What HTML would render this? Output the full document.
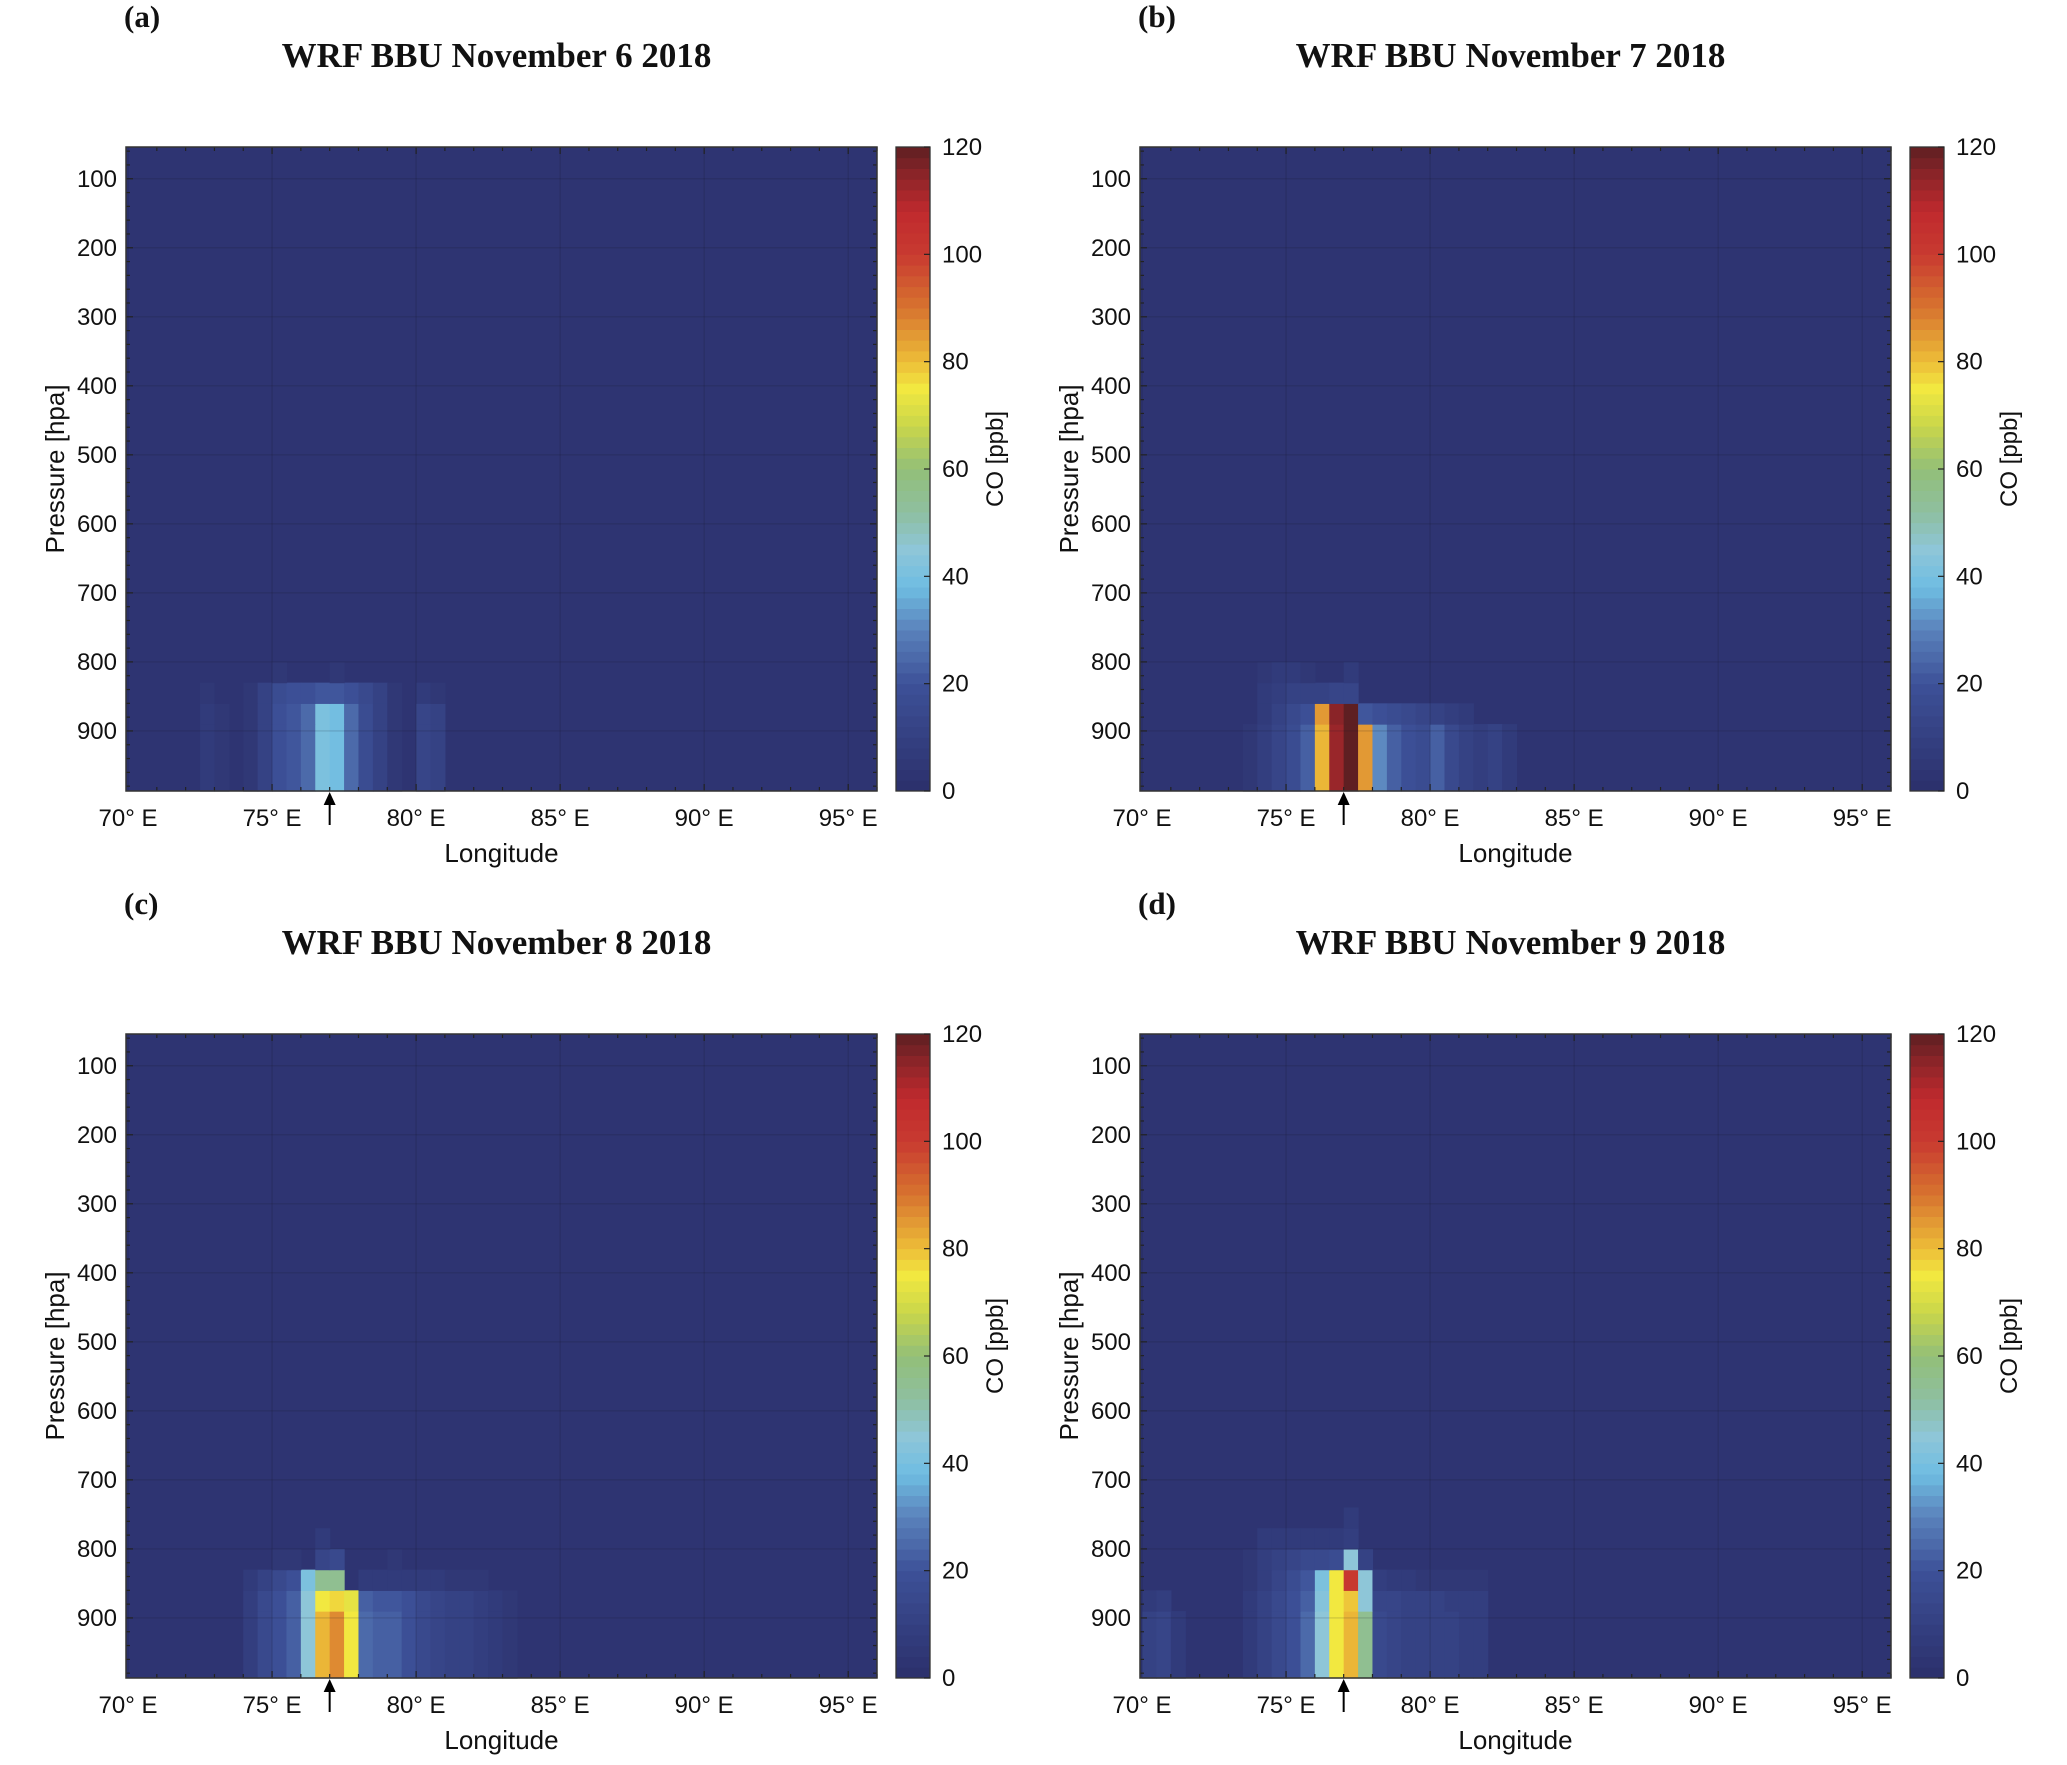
<!DOCTYPE html>
<html><head><meta charset="utf-8">
<style>
html,body{margin:0;padding:0;background:#fff;}
svg{display:block;}
.tk{font-family:"Liberation Sans",sans-serif;font-size:24px;fill:#111;}
.ttl{font-family:"Liberation Serif",serif;font-weight:bold;font-size:35px;fill:#111;}
.lab{font-family:"Liberation Serif",serif;font-weight:bold;font-size:31px;fill:#111;}
.ax{font-family:"Liberation Sans",sans-serif;font-size:26px;fill:#111;}
</style></head>
<body>
<svg id="fig" width="2067" height="1765" viewBox="0 0 2067 1765" xmlns="http://www.w3.org/2000/svg"></svg>
<script>
// ---- data ----
const panelLabels = ["(a)","(b)","(c)","(d)"];
const panelTitles = ["WRF BBU November 6 2018","WRF BBU November 7 2018","WRF BBU November 8 2018","WRF BBU November 9 2018"];
const lonTicks = [70,75,80,85,90,95];
const presTicks = [100,200,300,400,500,600,700,800,900];
const cbTicks = [0,20,40,60,80,100,120];
const lonStart = 70, lonStep = 0.5;
// level edges (hPa), bottom-up bands
const levelEdges = [987,890,860,830,800,770,740];
const bgValue = 2;
const coA = [
 [0,0,0,0, 0,6,4,0,4,10,18,20,24,40,38,24,16,10,4,0,12,10,0,0,0,0,0,0],
 [0,0,0,0, 0,6,4,0,4,10,18,20,24,40,38,24,16,10,4,0,12,10,0,0,0,0,0,0],
 [0,0,0,0, 0,5,3,0,4,10,16,18,18,20,20,18,14,10,4,0,6,4,0,0,0,0,0,0],
 [0,0,0,0, 0,0,0,0,0,0,5,0,0,0,5,0,0,0,0,0,0,0,0,0,0,0,0,0],
 [0,0,0,0, 0,0,0,0,0,0,0,0,0,0,0,0,0,0,0,0,0,0,0,0,0,0,0,0],
 [0,0,0,0, 0,0,0,0,0,0,0,0,0,0,0,0,0,0,0,0,0,0,0,0,0,0,0,0]
];
const coB = [
 [0,0,0,0, 0,0,0,4,8,12,16,22,80,112,120,85,30,22,18,16,22,14,10,8,10,6,0,0],
 [0,0,0,0, 0,0,0,0,6,10,14,18,85,115,120,20,18,16,14,12,10,8,6,0,0,0,0,0],
 [0,0,0,0, 0,0,0,0,6,8,10,10,10,12,12,0,0,0,0,0,0,0,0,0,0,0,0,0],
 [0,0,0,0, 0,0,0,0,4,6,6,4,0,0,6,0,0,0,0,0,0,0,0,0,0,0,0,0],
 [0,0,0,0, 0,0,0,0,0,0,0,0,0,0,0,0,0,0,0,0,0,0,0,0,0,0,0,0],
 [0,0,0,0, 0,0,0,0,0,0,0,0,0,0,0,0,0,0,0,0,0,0,0,0,0,0,0,0]
];
const coC = [
 [0,0,0,0, 0,0,0,0,8,14,18,22,45,80,86,75,24,22,22,18,14,12,10,10,8,6,4,0],
 [0,0,0,0, 0,0,0,0,8,14,18,22,45,75,76,72,22,20,20,18,14,12,10,10,8,6,4,0],
 [0,0,0,0, 0,0,0,0,6,10,14,18,40,55,55,0,6,6,6,6,6,6,4,4,4,0,0,0],
 [0,0,0,0, 0,0,0,0,0,0,4,4,0,12,14,0,0,0,4,0,0,0,0,0,0,0,0,0],
 [0,0,0,0, 0,0,0,0,0,0,0,0,0,6,0,0,0,0,0,0,0,0,0,0,0,0,0,0],
 [0,0,0,0, 0,0,0,0,0,0,0,0,0,0,0,0,0,0,0,0,0,0,0,0,0,0,0,0]
];
const coD = [
 [10,12,6,0, 0,0,0,6,10,14,18,24,45,75,80,55,14,12,10,10,10,10,8,8,0,0,0,0],
 [6,8,0,0, 0,0,0,6,10,14,18,22,42,75,78,45,12,12,10,10,10,8,8,8,0,0,0,0],
 [0,0,0,0, 0,0,0,4,8,12,16,20,40,75,100,45,8,6,6,4,4,4,4,4,0,0,0,0],
 [0,0,0,0, 0,0,0,4,8,10,12,14,14,16,45,10,0,0,0,0,0,0,0,0,0,0,0,0],
 [0,0,0,0, 0,0,0,0,6,6,6,6,6,6,8,0,0,0,0,0,0,0,0,0,0,0,0,0],
 [0,0,0,0, 0,0,0,0,0,0,0,0,0,0,6,0,0,0,0,0,0,0,0,0,0,0,0,0]
];
const panelData = [coA,coB,coC,coD];
const arrowLon = 77.0;

// ---- colormap ----
const cmapStops = [[0,"#2b2f6b"],[20,"#3d5198"],[30,"#5a82bb"],[38,"#6fbde2"],[45,"#8ec6d8"],[52,"#8ebfa0"],[60,"#93bf78"],[68,"#c9d64a"],[75,"#f2e840"],[80,"#edbd38"],[90,"#d7742f"],[100,"#c83a30"],[108,"#c02a2e"],[115,"#8a2428"],[120,"#5e1f22"]];
function hex(h){return [1,3,5].map(i=>parseInt(h.substr(i,2),16));}
function cmap(v){
  v=Math.max(0,Math.min(120,Math.floor(v/2)*2+1));
  for(let i=0;i<cmapStops.length-1;i++){
    const [a,ca]=cmapStops[i],[b,cb]=cmapStops[i+1];
    if(v<=b){const t=(v-a)/(b-a),A=hex(ca),B=hex(cb);
      return "rgb("+A.map((x,k)=>Math.round(x+(B[k]-x)*t)).join(",")+")";}
  }
  return cmapStops[cmapStops.length-1][1];
}

const NS="http://www.w3.org/2000/svg";
const svg=document.getElementById("fig");
function el(tag,attrs,parent,text){const e=document.createElementNS(NS,tag);for(const k in attrs)e.setAttribute(k,attrs[k]);if(text!==undefined)e.textContent=text;(parent||svg).appendChild(e);return e;}

const W0={x0:126,x1:877,y0:147,y1:791};
const lonMin=69.93,lonMax=96.0,pMin=54,pMax=987;
const offsets=[[0,0],[1014,0],[0,887],[1014,887]];

panelData.forEach((data,pi)=>{
  const [ox,oy]=offsets[pi];
  const X0=W0.x0+ox,X1=W0.x1+ox,Y0=W0.y0+oy,Y1=W0.y1+oy;
  const xs=l=>X0+(l-lonMin)/(lonMax-lonMin)*(X1-X0);
  const ys=p=>Y0+(p-pMin)/(pMax-pMin)*(Y1-Y0);
  const g=el("g",{});
  
  
  const pl=el("text",{x:X0-2,y:oy+27,class:"lab"},g,panelLabels[pi]);
  
  
  const tt=el("text",{x:(X0+X1)/2-5,y:oy+67,class:"ttl","text-anchor":"middle"},g,panelTitles[pi]);
  
  
  const bg=el("rect",{x:X0,y:Y0,width:X1-X0,height:Y1-Y0,fill:cmap(bgValue)},g);
  
  
  data.forEach((row,li)=>{
    const pB=levelEdges[li],pT=levelEdges[li+1];
    row.forEach((v,ci)=>{
      if(v<=bgValue)return;
      const l0=lonStart+ci*lonStep;
      const r=el("rect",{x:xs(l0),y:ys(pT),width:xs(l0+lonStep)-xs(l0)+0.6,height:ys(pB)-ys(pT)+0.6,fill:cmap(v)},g);
      
      
    });
  });
  lonTicks.forEach(t=>{el("line",{x1:xs(t),x2:xs(t),y1:Y0,y2:Y1,stroke:"rgba(20,20,40,0.18)","stroke-width":1.2},g);});
  presTicks.forEach(t=>{el("line",{x1:X0,x2:X1,y1:ys(t),y2:ys(t),stroke:"rgba(20,20,40,0.18)","stroke-width":1.2},g);});
  for(let l=71;l<=96;l++){const x=xs(l);el("line",{x1:x,x2:x,y1:Y1,y2:Y1-(l%5?4:7),stroke:"#222","stroke-width":1.2},g);el("line",{x1:x,x2:x,y1:Y0,y2:Y0+(l%5?4:7),stroke:"#222","stroke-width":1.2},g);}
  for(let p=60;p<=980;p+=20){const y=ys(p);el("line",{x1:X0,x2:X0+(p%100?4:7),y1:y,y2:y,stroke:"#222","stroke-width":1.2},g);el("line",{x1:X1,x2:X1-(p%100?4:7),y1:y,y2:y,stroke:"#222","stroke-width":1.2},g);}
  el("rect",{x:X0,y:Y0,width:X1-X0,height:Y1-Y0,fill:"none",stroke:"#333","stroke-width":1.5},g);
  lonTicks.forEach(t=>{const tx=el("text",{x:xs(t),y:Y1+35,class:"tk","text-anchor":"middle"},g,t+"° E");
    
    });
  presTicks.forEach(t=>{const tx=el("text",{x:X0-9,y:ys(t)+8,class:"tk","text-anchor":"end"},g,String(t));
    
    });
  const xt=el("text",{x:(X0+X1)/2,y:Y1+71,class:"ax","text-anchor":"middle"},g,"Longitude");
  
  
  const yt=el("text",{x:0,y:0,class:"ax","text-anchor":"middle",transform:"translate("+(X0-62)+","+((Y0+Y1)/2)+") rotate(-90)"},g,"Pressure [hpa]");
  
  
  const ax=xs(arrowLon);
  const ar=el("g",{},g);
  
  
  el("line",{x1:ax,x2:ax,y1:Y1+6,y2:Y1+34,stroke:"#000","stroke-width":2},ar);
  el("polygon",{points:(ax-6)+","+(Y1+14)+" "+ax+","+(Y1+1)+" "+(ax+6)+","+(Y1+14),fill:"#000"},ar);
  const CX0=896+ox,CX1=930+ox;
  const cb=el("g",{},g);
  
  
  const cy=v=>Y1-(v/120)*(Y1-Y0);
  for(let v=0;v<120;v+=2){el("rect",{x:CX0,y:cy(v+2),width:CX1-CX0,height:cy(v)-cy(v+2)+0.5,fill:cmap(v+1)},cb);}
  el("rect",{x:CX0,y:Y0,width:CX1-CX0,height:Y1-Y0,fill:"none",stroke:"#333","stroke-width":1.3},cb);
  cbTicks.forEach(t=>{el("line",{x1:CX1-6,x2:CX1,y1:cy(t),y2:cy(t),stroke:"#222","stroke-width":1.2},cb);
    const tx=el("text",{x:CX1+12,y:cy(t)+8,class:"tk"},cb,String(t));
    
    });
  const ct=el("text",{x:0,y:0,class:"tk","text-anchor":"middle",transform:"translate("+(CX1+73)+","+((Y0+Y1)/2-10)+") rotate(-90)"},cb,"CO [ppb]");
  
  
});
</script>
</body></html>
